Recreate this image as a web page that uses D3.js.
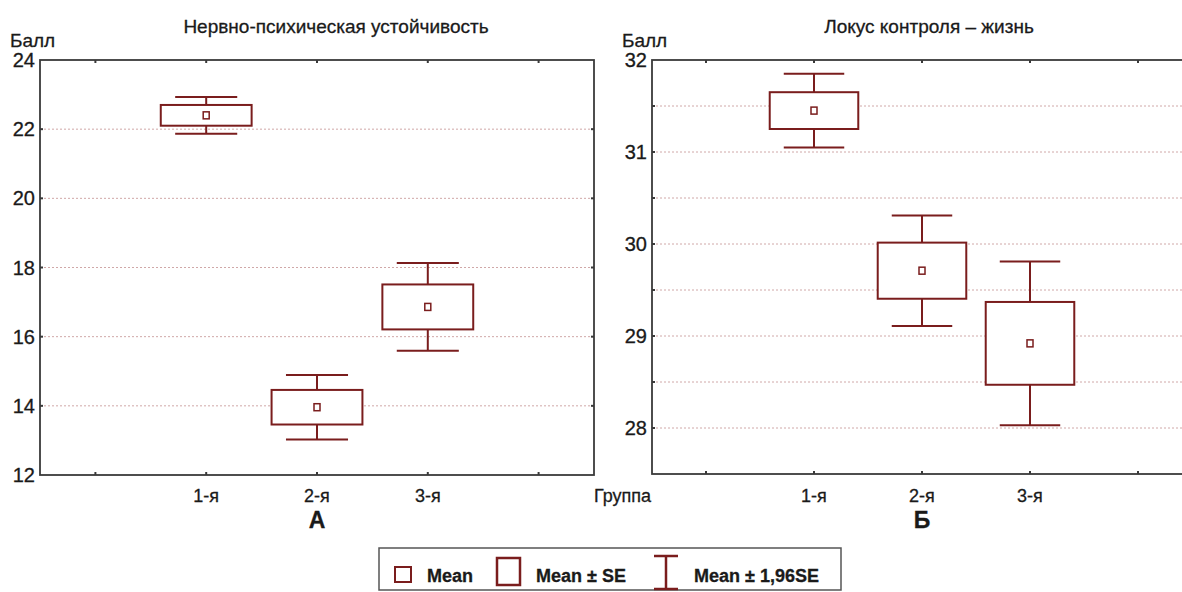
<!DOCTYPE html>
<html>
<head>
<meta charset="utf-8">
<script src="https://cdn.jsdelivr.net/npm/d3@7"></script>
<style>
  body { margin: 0; background: #fff; }
  text { font-family: "Liberation Sans", Arial, sans-serif; fill: #1a1a1a; stroke: #1a1a1a; stroke-width: 0.3px; }
</style>
</head>
<body>
<div id="chart"></div>
<script>
// groups on the x axis
var groups = ["1-я", "2-я", "3-я"];

// panel A: Нервно-психическая устойчивость
var meanA = [22.40, 13.96, 16.86];
var seA = [0.30, 0.50, 0.65];
var ciA = [0.53, 0.93, 1.27];
var gridA = [14, 16, 18, 20, 22];
var labelsA = [12, 14, 16, 18, 20, 22, 24];

// panel B: Локус контроля - жизнь
var meanB = [31.45, 29.71, 28.92];
var seB = [0.20, 0.305, 0.45];
var ciB = [0.40, 0.60, 0.89];
var gridB = [28, 28.5, 29, 29.5, 30, 30.5, 31, 31.5];
var labelsB = [28, 29, 30, 31, 32];

var legendLabels = ["Mean", "Mean ± SE", "Mean ± 1,96SE"];

const W = 1182, H = 592;
const red = "#7a1d1d";
const frame = "#3a3a3a";

var svg = d3.select("#chart").append("svg")
    .attr("width", W)
    .attr("height", H);

var panels = [
  {title: "Нервно-психическая устойчивость", titleX: 336, letter: "А",
   x0: 40, x1: 594, y0: 60, y1: 475, domain: [12, 24],
   mean: meanA, se: seA, ci: ciA, grid: gridA, labels: labelsA},
  {title: "Локус контроля – жизнь", titleX: 929, letter: "Б",
   x0: 652, x1: 1192, y0: 60, y1: 474, domain: [27.5, 32],
   mean: meanB, se: seB, ci: ciB, grid: gridB, labels: labelsB}
];

panels.forEach(function(p) {
  var x = d3.scaleLinear().domain([-0.5, 4.5]).range([p.x0, p.x1]);
  var y = d3.scaleLinear().domain(p.domain).range([p.y1, p.y0]);
  var step = x(1) - x(0);
  var g = svg.append("g");

  // dotted grid
  g.selectAll(".grid").data(p.grid).enter().append("line")
      .attr("x1", p.x0).attr("x2", p.x1)
      .attr("y1", d => y(d)).attr("y2", d => y(d))
      .attr("stroke", "#d0a8a8")
      .attr("stroke-width", 1)
      .attr("stroke-dasharray", "2,2");

  // frame
  g.append("rect")
      .attr("x", p.x0).attr("y", p.y0)
      .attr("width", p.x1 - p.x0).attr("height", p.y1 - p.y0)
      .attr("fill", "none")
      .attr("stroke", frame)
      .attr("stroke-width", 1.8);

  // small inward ticks on top / bottom
  var xt = d3.range(0, 5);
  g.selectAll(".tb").data(xt).enter().append("line")
      .attr("x1", d => x(d)).attr("x2", d => x(d))
      .attr("y1", p.y1).attr("y2", p.y1 - 3)
      .attr("stroke", frame).attr("stroke-width", 2);
  g.selectAll(".tt").data(xt).enter().append("line")
      .attr("x1", d => x(d)).attr("x2", d => x(d))
      .attr("y1", p.y0).attr("y2", p.y0 + 3)
      .attr("stroke", frame).attr("stroke-width", 2);
  // small ticks on left / right
  g.selectAll(".tl").data(p.grid).enter().append("line")
      .attr("x1", p.x0).attr("x2", p.x0 + 3)
      .attr("y1", d => y(d)).attr("y2", d => y(d))
      .attr("stroke", frame).attr("stroke-width", 2);
  g.selectAll(".tr").data(p.grid).enter().append("line")
      .attr("x1", p.x1).attr("x2", p.x1 - 3)
      .attr("y1", d => y(d)).attr("y2", d => y(d))
      .attr("stroke", frame).attr("stroke-width", 2);

  // y labels
  g.selectAll(".yl").data(p.labels).enter().append("text")
      .attr("x", p.x0 - 5)
      .attr("y", d => y(d) + 7)
      .attr("text-anchor", "end")
      .attr("font-size", "20px")
      .text(d => d);

  // x labels
  g.selectAll(".xl").data(groups).enter().append("text")
      .attr("x", (d, i) => x(i + 1))
      .attr("y", 502)
      .attr("text-anchor", "middle")
      .attr("font-size", "18px")
      .text(d => d);

  g.append("text")
      .attr("x", p.x0 - 30)
      .attr("y", 47)
      .attr("font-size", "19px")
      .text("Балл");

  g.append("text")
      .attr("x", p.titleX)
      .attr("y", 33)
      .attr("text-anchor", "middle")
      .attr("font-size", "19px")
      .text(p.title);

  g.append("text")
      .attr("x", x(2))
      .attr("y", 528)
      .attr("text-anchor", "middle")
      .attr("font-size", "23px")
      .attr("font-weight", "bold")
      .text(p.letter);

  // boxes
  var boxW = step * 0.82, capW = step * 0.56;
  var b = g.selectAll(".box").data(p.mean).enter().append("g")
      .attr("transform", (d, i) => "translate(" + x(i + 1) + ",0)");

  b.append("line")
      .attr("x1", 0).attr("x2", 0)
      .attr("y1", (d, i) => y(d + p.ci[i]))
      .attr("y2", (d, i) => y(d - p.ci[i]))
      .attr("stroke", red).attr("stroke-width", 2);
  b.append("line")
      .attr("x1", -capW / 2).attr("x2", capW / 2)
      .attr("y1", (d, i) => y(d + p.ci[i]))
      .attr("y2", (d, i) => y(d + p.ci[i]))
      .attr("stroke", red).attr("stroke-width", 2);
  b.append("line")
      .attr("x1", -capW / 2).attr("x2", capW / 2)
      .attr("y1", (d, i) => y(d - p.ci[i]))
      .attr("y2", (d, i) => y(d - p.ci[i]))
      .attr("stroke", red).attr("stroke-width", 2);
  b.append("rect")
      .attr("x", -boxW / 2)
      .attr("y", (d, i) => y(d + p.se[i]))
      .attr("width", boxW)
      .attr("height", (d, i) => y(d - p.se[i]) - y(d + p.se[i]))
      .attr("fill", "#fff")
      .attr("stroke", red).attr("stroke-width", 2);
  b.append("rect")
      .attr("x", -3).attr("y", d => y(d) - 3.5)
      .attr("width", 6).attr("height", 7)
      .attr("fill", "#fff")
      .attr("stroke", red).attr("stroke-width", 1.5);

  // x axis title next to the left panel
  if (p.letter === "А") {
    g.append("text")
        .attr("x", p.x1)
        .attr("y", 502)
        .attr("font-size", "18px")
        .text("Группа");
  }
});

// legend
var lg = svg.append("g");
lg.append("rect")
    .attr("x", 379).attr("y", 548)
    .attr("width", 462).attr("height", 42)
    .attr("fill", "#fff")
    .attr("stroke", "#555").attr("stroke-width", 1.5);

lg.append("rect")
    .attr("x", 395).attr("y", 567).attr("width", 16).attr("height", 15)
    .attr("fill", "none").attr("stroke", red).attr("stroke-width", 2);
lg.append("rect")
    .attr("x", 497).attr("y", 558).attr("width", 23).attr("height", 27)
    .attr("fill", "none").attr("stroke", red).attr("stroke-width", 2.5);
lg.append("line")
    .attr("x1", 666).attr("x2", 666).attr("y1", 556).attr("y2", 589)
    .attr("stroke", red).attr("stroke-width", 2.5);
[556, 589].forEach(function(yy) {
  lg.append("line")
      .attr("x1", 654).attr("x2", 678).attr("y1", yy).attr("y2", yy)
      .attr("stroke", red).attr("stroke-width", 2.5);
});

var legendX = [427, 536, 694];
lg.selectAll(".lt").data(legendLabels).enter().append("text")
    .attr("x", (d, i) => legendX[i])
    .attr("y", 582)
    .attr("font-size", "18px")
    .attr("font-weight", "bold")
    .text(d => d);
</script>
</body>
</html>
